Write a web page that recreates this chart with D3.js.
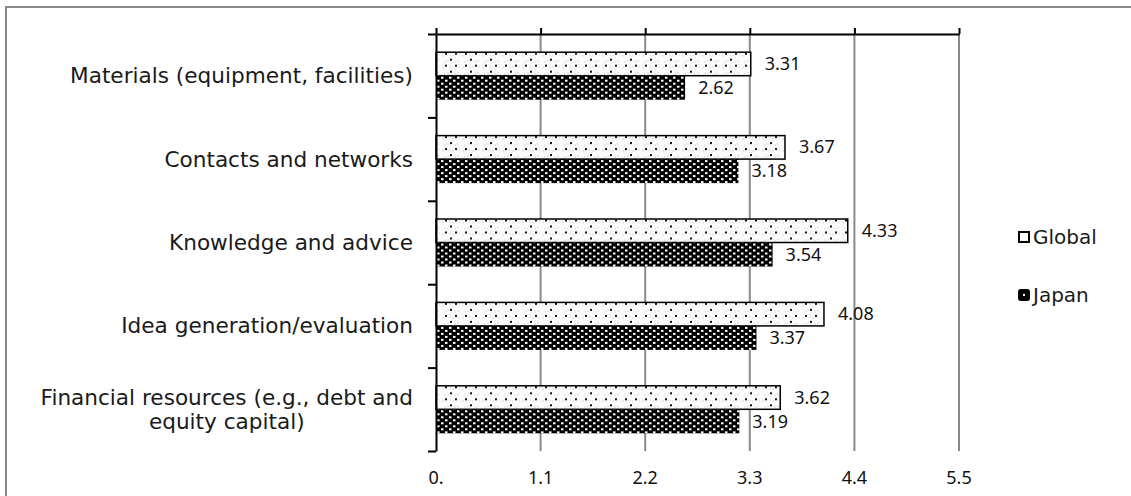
<!DOCTYPE html>
<html>
<head>
<meta charset="utf-8">
<script src="https://cdn.jsdelivr.net/npm/d3@7"></script>
<style>
  html, body { margin: 0; padding: 0; background: #fff; }
  svg { display: block; }
</style>
</head>
<body>
<svg id="chart" width="1131" height="496"></svg>
<script>
// Support sources rated by entrepreneurs, global average vs Japan
const categories = [
  "Materials (equipment, facilities)",
  "Contacts and networks",
  "Knowledge and advice",
  "Idea generation/evaluation",
  "Financial resources (e.g., debt and equity capital)"
];
const categoryLines = [
  ["Materials (equipment, facilities)"],
  ["Contacts and networks"],
  ["Knowledge and advice"],
  ["Idea generation/evaluation"],
  ["Financial resources (e.g., debt and", "equity capital)"]
];
const seriesNames = ["Global", "Japan"];
const globalValues = [3.31, 3.67, 4.33, 4.08, 3.62];
const japanValues = [2.62, 3.18, 3.54, 3.37, 3.19];
const tickValues = [0, 1.1, 2.2, 3.3, 4.4, 5.5];
const tickLabels = ["0.", "1.1", "2.2", "3.3", "4.4", "5.5"];

const svg = d3.select("#chart");
const numFont = "'Noto Sans', 'Open Sans', sans-serif";
const catFont = "'DejaVu Sans', Verdana, sans-serif";

// Fill patterns: light dotted for Global, white-on-black dots for Japan
const defs = svg.append("defs");
const pg = defs.append("pattern").attr("id", "pat-global")
  .attr("patternUnits", "userSpaceOnUse").attr("width", 20).attr("height", 12);
pg.append("rect").attr("width", 20).attr("height", 12).attr("fill", "#fcfcfc");
[[2, 3], [7, 8], [12, 3], [17, 8], [4, 9], [14, 9], [9, 2], [19, 2]].forEach(([px, py]) =>
  pg.append("rect").attr("x", px).attr("y", py).attr("width", 2).attr("height", 2).attr("fill", "#e8e8e8"));
[[5, 1], [15, 1], [10, 7]].forEach(([px, py]) =>
  pg.append("rect").attr("x", px).attr("y", py).attr("width", 2).attr("height", 2).attr("fill", "#111"));

const pj = defs.append("pattern").attr("id", "pat-japan")
  .attr("patternUnits", "userSpaceOnUse").attr("width", 8).attr("height", 6);
pj.append("rect").attr("width", 8).attr("height", 6).attr("fill", "#000");
[[1, 1], [5, 4]].forEach(([px, py]) =>
  pj.append("rect").attr("x", px).attr("y", py).attr("width", 2.5).attr("height", 2).attr("fill", "#fff"));

// Outer frame
svg.append("rect").attr("x", 6).attr("y", 7).attr("width", 1140).attr("height", 500)
  .attr("fill", "none").attr("stroke", "#8a8a8a").attr("stroke-width", 2);

const plotTop = 34, plotBottom = 451;
const x = d3.scaleLinear().domain([0, 5.5]).range([436, 959]);
const y = d3.scaleBand().domain(categories).range([plotTop, plotBottom]).paddingInner(0.4245).paddingOuter(0.21225);
const ySub = d3.scaleBand().domain(seriesNames).range([0, y.bandwidth()]);

// Vertical gridlines
svg.append("g").selectAll("line").data(tickValues.filter(d => d > 0)).join("line")
  .attr("x1", d => x(d)).attr("x2", d => x(d)).attr("y1", plotTop).attr("y2", plotBottom)
  .attr("stroke", "#8a8a8a").attr("stroke-width", 2);

// Bars
const rows = categories.map((c, i) => ({ c, g: globalValues[i], j: japanValues[i] }));
const groups = svg.append("g").selectAll("g").data(rows).join("g")
  .attr("transform", d => `translate(0,${y(d.c)})`);
groups.append("rect")
  .attr("x", x(0)).attr("y", ySub("Global") + 0.5)
  .attr("width", d => x(d.g) - x(0)).attr("height", ySub.bandwidth() - 0.5)
  .attr("fill", "url(#pat-global)").attr("stroke", "#000").attr("stroke-width", 1.5);
groups.append("rect")
  .attr("x", x(0)).attr("y", ySub("Japan"))
  .attr("width", d => x(d.j) - x(0)).attr("height", ySub.bandwidth())
  .attr("fill", "url(#pat-japan)");

// Value labels
groups.append("text")
  .attr("x", d => x(d.g) + 14).attr("y", ySub("Global") + ySub.bandwidth() / 2)
  .attr("dy", "0.35em").attr("font-family", numFont).attr("font-size", 18).attr("fill", "#111")
  .text(d => d.g.toFixed(2));
groups.append("text")
  .attr("x", d => x(d.j) + 13).attr("y", ySub("Japan") + ySub.bandwidth() / 2)
  .attr("dy", "0.35em").attr("font-family", numFont).attr("font-size", 18).attr("fill", "#111")
  .text(d => d.j.toFixed(2));

// Top value axis (outward ticks, labels drawn at the bottom)
const xAxis = d3.axisTop(x).tickValues(tickValues).tickSize(6).tickSizeOuter(0).tickFormat("");
const gx = svg.append("g").attr("transform", `translate(0,${plotTop})`).call(xAxis);
gx.select(".domain").attr("stroke", "#000").attr("stroke-width", 2);
gx.selectAll(".tick line").attr("stroke", "#000").attr("stroke-width", 2);

svg.append("g").selectAll("text").data(tickValues).join("text")
  .attr("x", d => x(d)).attr("y", 478).attr("dy", "0.35em")
  .attr("text-anchor", "middle").attr("font-family", numFont).attr("font-size", 18).attr("fill", "#111")
  .text((d, i) => tickLabels[i]);

// Category axis with boundary ticks
const yb = d3.scaleLinear().domain([0, categories.length]).range([plotTop, plotBottom]);
const yAxis = d3.axisLeft(yb).tickValues(d3.range(categories.length + 1)).tickSize(8).tickSizeOuter(0).tickFormat("");
const gy = svg.append("g").attr("transform", `translate(${x(0)},0)`).call(yAxis);
gy.select(".domain").attr("stroke", "#000").attr("stroke-width", 2);
gy.selectAll(".tick line").attr("stroke", "#000").attr("stroke-width", 2);

// Category labels: right edge at 413, multi-line labels centered
const labelRight = 413;
categories.forEach((c, i) => {
  const lines = categoryLines[i];
  const cy = y(c) + y.bandwidth() / 2;
  const lh = 24;
  const t = svg.append("text").attr("font-family", catFont).attr("font-size", 21.6)
    .attr("fill", "#1a1a1a").attr("text-anchor", "middle");
  lines.forEach((ln, k) => {
    t.append("tspan").attr("x", 0)
      .attr("y", cy + (k - (lines.length - 1) / 2) * lh).attr("dy", "0.35em").text(ln);
  });
  const w = t.node().getBBox().width;
  t.attr("transform", `translate(${labelRight - w / 2},0)`);
});

// Legend
const legend = svg.append("g");
const legendY = [237, 295];
seriesNames.forEach((s, i) => {
  if (i === 0) {
    legend.append("rect").attr("x", 1019).attr("y", legendY[i] - 5).attr("width", 10).attr("height", 10)
      .attr("fill", "#fff").attr("stroke", "#000").attr("stroke-width", 2);
  } else {
    legend.append("rect").attr("x", 1018).attr("y", legendY[i] - 6).attr("width", 12).attr("height", 12)
      .attr("rx", 3).attr("fill", "#000");
    legend.append("rect").attr("x", 1023).attr("y", legendY[i] - 1).attr("width", 2).attr("height", 2)
      .attr("fill", "#fff");
  }
  legend.append("text").attr("x", 1033).attr("y", legendY[i]).attr("dy", "0.35em")
    .attr("font-family", catFont).attr("font-size", 20).attr("fill", "#1a1a1a").text(s);
});
</script>
</body>
</html>
